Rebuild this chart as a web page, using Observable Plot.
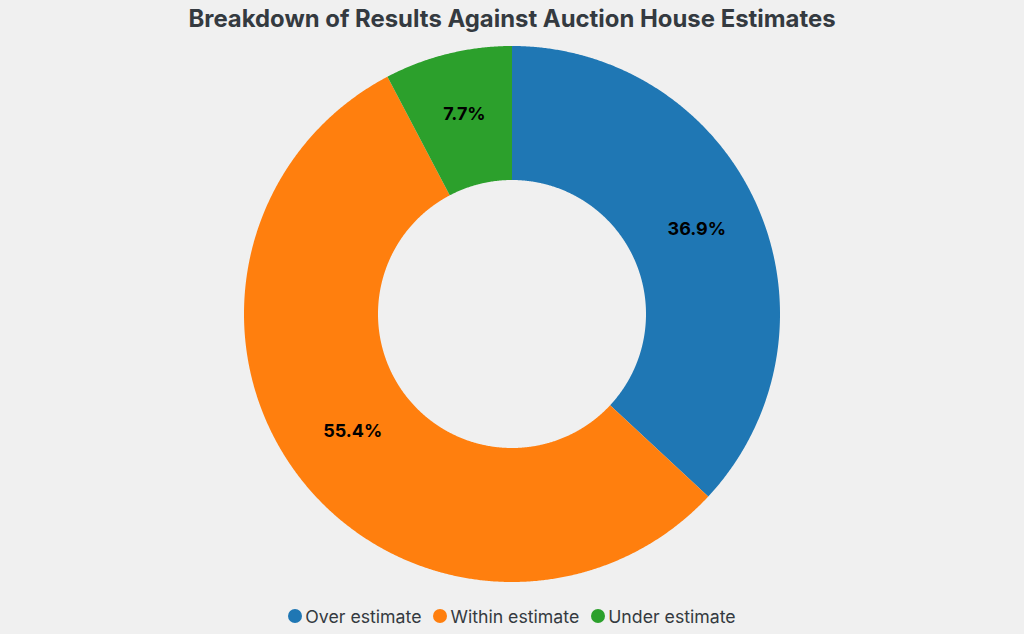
<!DOCTYPE html>
<html>
<head>
<meta charset="utf-8">
<script src="https://cdn.jsdelivr.net/npm/d3@7"></script>
<script src="https://cdn.jsdelivr.net/npm/@observablehq/plot@0.6"></script>
<style>
  html, body { margin: 0; padding: 0; background: #f0f0f0; }
  body { width: 1024px; height: 634px; overflow: hidden; font-family: Inter, "Noto Sans", sans-serif; }
  #title { height: 32px; line-height: 37px; text-align: center; font-weight: 700; font-size: 23.9px; color: #343a40; }
  #chart { height: 564px; }
  #legend { display: flex; justify-content: center; align-items: center; gap: 12px; height: 38px; padding-top: 1px; font-size: 17.7px; color: #343a40; }
  .item { display: flex; align-items: center; gap: 3px; }
  .dot { width: 14px; height: 14px; border-radius: 50%; display: inline-block; }
</style>
</head>
<body>
<div id="title">Breakdown of Results Against Auction House Estimates</div>
<div id="chart"></div>
<div id="legend"></div>
<script>
const categories = ["Over estimate", "Within estimate", "Under estimate"];
const counts = [24, 36, 5];
const colors = ["#1f77b4", "#ff7f0e", "#2ca02c"];

const W = 1024, H = 564;
const outerR = 268, innerR = 134;
const total = d3.sum(counts);
const pie = d3.pie().sort(null).value(d => d.value);
const arcs = pie(categories.map((c, i) => ({category: c, value: counts[i]})));

// polygon points for each slice (angle 0 at top, clockwise; y grows downward)
const pts = [];
arcs.forEach(a => {
  const n = Math.max(2, Math.ceil((a.endAngle - a.startAngle) / 0.005));
  for (let k = 0; k <= n; k++) {
    const t = a.startAngle + (a.endAngle - a.startAngle) * k / n;
    pts.push({
      category: a.data.category,
      x1: outerR * Math.sin(t), y1: -outerR * Math.cos(t),
      x2: innerR * Math.sin(t), y2: -innerR * Math.cos(t)
    });
  }
});
const labels = arcs.map(a => {
  const m = (a.startAngle + a.endAngle) / 2, r = (outerR + innerR) / 2;
  return {x: r * Math.sin(m), y: -r * Math.cos(m), text: (a.data.value / total * 100).toFixed(1) + "%"};
});

const plot = Plot.plot({
  width: W, height: H,
  margin: 0,
  style: {background: "transparent", fontFamily: "Inter, sans-serif"},
  x: {domain: [-W / 2, W / 2], axis: null},
  y: {domain: [-H / 2, H / 2], range: [0, H], axis: null},
  color: {domain: categories, range: colors},
  marks: [
    Plot.area(pts, {x1: "x1", y1: "y1", x2: "x2", y2: "y2", fill: "category", z: "category"}),
    Plot.text(labels, {x: "x", y: "y", text: "text", fill: "#000", fontWeight: 700, fontSize: 18, dy: -5})
  ]
});
document.getElementById("chart").appendChild(plot);

const legend = document.getElementById("legend");
categories.forEach((c, i) => {
  const it = document.createElement("span");
  it.className = "item";
  it.innerHTML = `<span class="dot" style="background:${colors[i]}"></span><span>${c}</span>`;
  legend.appendChild(it);
});
</script>
</body>
</html>
